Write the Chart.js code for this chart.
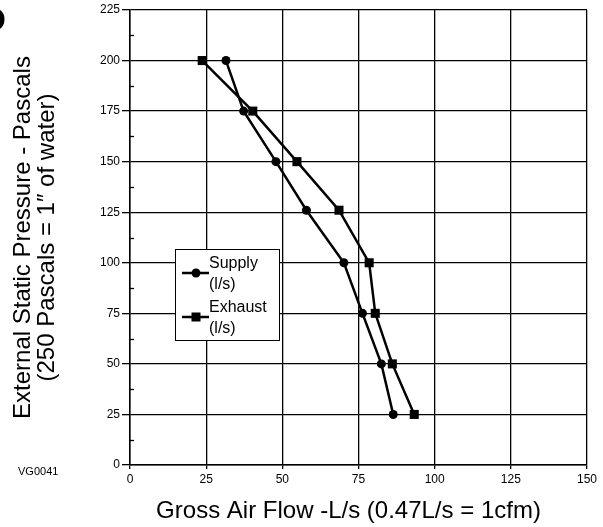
<!DOCTYPE html>
<html>
<head>
<meta charset="utf-8">
<script src="https://cdn.jsdelivr.net/npm/chart.js@4.4.0/dist/chart.umd.min.js"></script>
<style>
  html, body { margin: 0; padding: 0; background: #fff; }
</style>
</head>
<body>
<canvas id="chart" width="603" height="527"></canvas>
<script>
// data
const pressure = [200, 175, 150, 126, 100, 75, 50, 25];
const supplyFlow = [31.5, 37.3, 47.9, 57.9, 70.2, 76.3, 82.5, 86.4];
const exhaustFlow = [23.7, 40.3, 54.8, 68.6, 78.5, 80.5, 86.1, 93.3];
const seriesNames = [["Supply", "(l/s)"], ["Exhaust", "(l/s)"]];
const xRange = [0, 150];
const yRange = [0, 225];
const majorStep = 25;

const FONT = "'Liberation Sans', Arial, sans-serif";

function points(xs, ys) {
  return xs.map((x, i) => ({ x: x, y: ys[i] }));
}

const isMajor = v => Math.abs(v % majorStep) < 1e-6;

// small ticks inside the plot at the half steps of the y axis
const minorTicks = {
  id: "minorTicks",
  afterDraw(chart) {
    const ctx = chart.ctx;
    const y = chart.scales.y;
    const left = chart.chartArea.left;
    ctx.save();
    ctx.strokeStyle = "#000";
    ctx.lineWidth = 1.3;
    y.ticks.forEach(t => {
      if (isMajor(t.value)) return;
      const py = Math.round(y.getPixelForValue(t.value)) + 0.5;
      ctx.beginPath();
      ctx.moveTo(left, py);
      ctx.lineTo(left + 4, py);
      ctx.stroke();
    });
    ctx.restore();
  }
};

// boxed legend with two-line labels
const boxLegend = {
  id: "boxLegend",
  afterDraw(chart) {
    const ctx = chart.ctx;
    const ca = chart.chartArea;
    const bx = ca.left + 45, by = 249, bw = 104, bh = 91;
    ctx.save();
    ctx.fillStyle = "#fff";
    ctx.fillRect(bx, by, bw, bh);
    ctx.strokeStyle = "#000";
    ctx.lineWidth = 1;
    ctx.strokeRect(bx + 0.5, by + 0.5, bw, bh);

    const rows = [by + 24, by + 68];
    chart.data.datasets.forEach((ds, i) => {
      const ly = rows[i];
      ctx.strokeStyle = "#000";
      ctx.lineWidth = 2.5;
      ctx.beginPath();
      ctx.moveTo(bx + 7, ly);
      ctx.lineTo(bx + 34, ly);
      ctx.stroke();
      ctx.fillStyle = "#000";
      if (ds.pointStyle === "rect") {
        ctx.fillRect(bx + 21 - 4.5, ly - 4.5, 9, 9);
      } else {
        ctx.beginPath();
        ctx.arc(bx + 21, ly, 4.5, 0, Math.PI * 2);
        ctx.fill();
      }
      ctx.font = "16px " + FONT;
      ctx.textAlign = "left";
      ctx.textBaseline = "middle";
      const lines = seriesNames[i];
      ctx.fillText(lines[0], bx + 34, ly - 9);
      ctx.fillText(lines[1], bx + 34, ly + 12);
    });
    ctx.restore();
  }
};

// figure code and the clipped glyph at the page corner
const extras = {
  id: "extras",
  afterDraw(chart) {
    const ctx = chart.ctx;
    ctx.save();
    ctx.fillStyle = "#000";
    ctx.font = "11px " + FONT;
    ctx.textAlign = "left";
    ctx.textBaseline = "middle";
    ctx.fillText("VG0041", 18, 472);
    ctx.font = "bold 34px " + FONT;
    ctx.textAlign = "right";
    ctx.fillText("O", 6, 22);
    ctx.restore();
  }
};

new Chart(document.getElementById("chart"), {
  type: "scatter",
  data: {
    datasets: [
      {
        label: seriesNames[0].join(" "),
        data: points(supplyFlow, pressure),
        showLine: true,
        borderColor: "#000",
        backgroundColor: "#000",
        borderWidth: 2.5,
        pointStyle: "circle",
        pointRadius: 4.5,
        pointBorderWidth: 0
      },
      {
        label: seriesNames[1].join(" "),
        data: points(exhaustFlow, pressure),
        showLine: true,
        borderColor: "#000",
        backgroundColor: "#000",
        borderWidth: 2.5,
        pointStyle: "rect",
        pointRadius: 6.4,
        pointBorderWidth: 0
      }
    ]
  },
  options: {
    responsive: false,
    animation: false,
    devicePixelRatio: 1,
    layout: { padding: { left: 0, top: 10, right: 16, bottom: 0 } },
    plugins: {
      legend: { display: false },
      tooltip: { enabled: false }
    },
    scales: {
      x: {
        type: "linear",
        min: xRange[0],
        max: xRange[1],
        ticks: { stepSize: majorStep, color: "#000", font: { family: FONT, size: 12 }, padding: 3 },
        grid: { color: "#000", lineWidth: 1.3, tickLength: 4 },
        border: { color: "#000", width: 1.5 },
        title: {
          display: true,
          // trailing spaces nudge the centred title a little to the left, as in the original
          text: "Gross Air Flow -L/s (0.47L/s = 1cfm)   ",
          color: "#000",
          font: { family: FONT, size: 24, lineHeight: 1 },
          padding: { top: 0, bottom: 4 }
        },
        afterFit: s => { s.height = 62; s.paddingLeft = 0; s.paddingRight = 0; }
      },
      y: {
        type: "linear",
        min: yRange[0],
        max: yRange[1],
        ticks: {
          stepSize: majorStep / 2,
          autoSkip: false,
          color: "#000",
          font: { family: FONT, size: 12 },
          padding: 2,
          callback: v => isMajor(v) ? v : ""
        },
        grid: {
          color: c => isMajor(c.tick.value) ? "#000" : "rgba(0,0,0,0)",
          tickColor: c => isMajor(c.tick.value) ? "#000" : "rgba(0,0,0,0)",
          lineWidth: 1.3,
          tickLength: 8
        },
        border: { color: "#000", width: 1.5 },
        title: {
          display: true,
          text: ["External Static Pressure - Pascals", "(250 Pascals = 1\u2033 of water)"],
          color: "#000",
          font: { family: FONT, size: 24, lineHeight: 1 },
          padding: { top: 11, bottom: 0 }
        },
        afterFit: s => { s.width = 130; s.paddingTop = 0; s.paddingBottom = 0; }
      }
    }
  },
  plugins: [minorTicks, boxLegend, extras]
});
</script>
</body>
</html>
